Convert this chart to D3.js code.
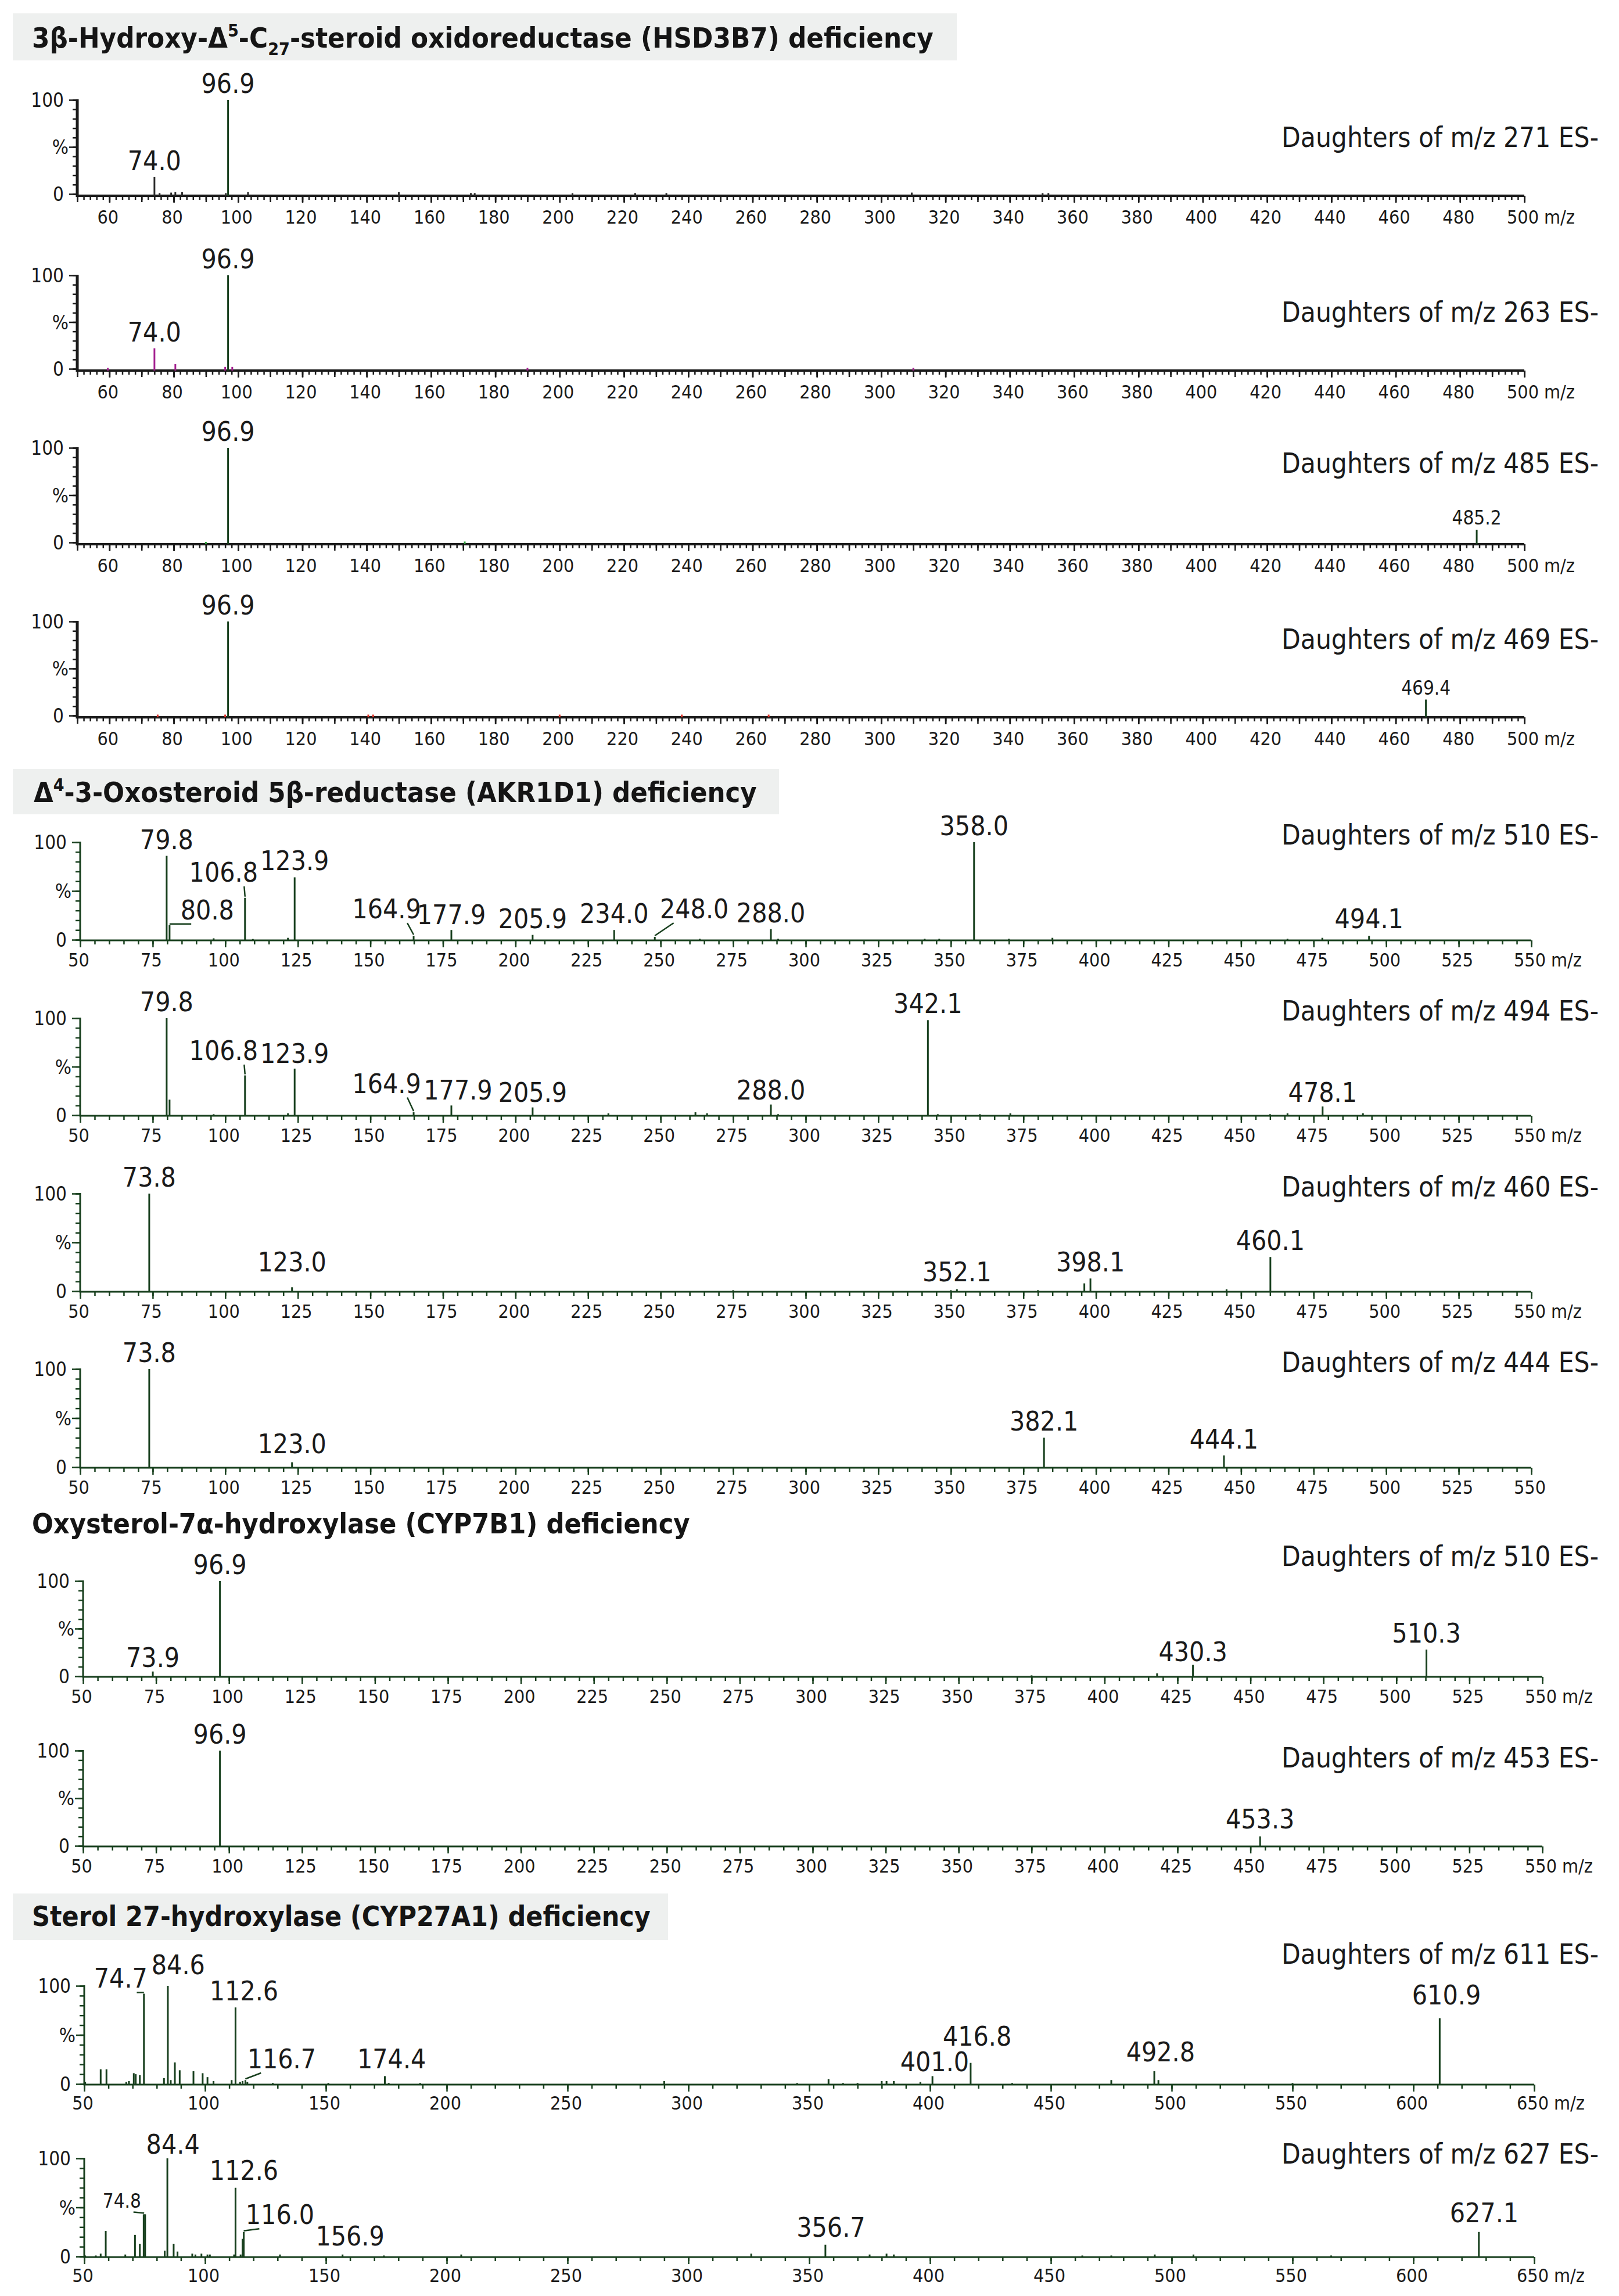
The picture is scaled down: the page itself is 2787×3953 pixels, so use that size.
<!DOCTYPE html>
<html><head><meta charset="utf-8">
<script src="https://cdn.jsdelivr.net/npm/d3@7/dist/d3.min.js"></script>
<style>html,body{margin:0;padding:0;background:#fff}svg{display:block}</style>
</head><body>
<svg id="chart" width="2787" height="3953" xmlns="http://www.w3.org/2000/svg"></svg>
<script>
// ================= DATA =================
const sectionTitles = [
  [["3β-Hydroxy-Δ"],["5","sup"],["-C"],["27","sub"],["-steroid oxidoreductase (HSD3B7) deficiency"]],
  [["Δ"],["4","sup"],["-3-Oxosteroid 5β-reductase (AKR1D1) deficiency"]],
  [["Oxysterol-7α-hydroxylase (CYP7B1) deficiency"]],
  [["Sterol 27-hydroxylase (CYP27A1) deficiency"]]
];
const precursorIons = [271, 263, 485, 469, 510, 494, 460, 444, 510, 453, 611, 627];

const ticksHSD = [60,80,100,120,140,160,180,200,220,240,260,280,300,320,340,360,380,400,420,440,460,480,500];
const ticksAKR = [50,75,100,125,150,175,200,225,250,275,300,325,350,375,400,425,450,475,500,525,550];
const ticksCYP7 = [50,75,100,125,150,175,200,225,250,275,300,325,350,375,400,425,450,475,500,525,550];
const ticksCYP27 = [50,100,150,200,250,300,350,400,450,500,550,600,650];
const yTickValues = [0, 50, 100];
const yTickLabels = ["0", "%", "100"];

// [m/z, relative intensity %]
const peaks271Main = [[96.9,100]];
const peaks271Dark = [[74.0,18],[75.6,1],[79.2,1.5],[80.5,2],[82.6,2],[96.2,1],[103.1,2],[150.0,2],[172.4,1],[173.6,1],[204.0,1],[223.5,1],[233.2,1],[309.5,1.5],[350.2,1],[352.0,1]];
const peaks263Main = [[96.9,100]];
const peaks263Alt = [[59.5,1],[74.0,22],[80.5,5],[96.0,2],[98.2,2],[190.0,1],[310.0,1]];
const peaks485Main = [[96.9,100],[485.2,13.5]];
const peaks485Alt = [[90.0,0.6],[170.5,1]];
const peaks469Main = [[96.9,100],[469.4,17]];
const peaks469Alt = [[75.0,1],[96.0,1],[140.5,1],[142.0,1],[200.0,1],[238.0,1],[265.0,1]];
const peaks510a = [[79.8,86],[80.8,15],[96.0,1.5],[106.8,43],[109.5,0.8],[121.6,2],[123.9,64],[164.9,4],[177.9,10],[205.9,5],[234.0,10],[248.0,3],[263.5,1],[288.0,11],[290.5,1],[341.0,1],[346.0,1],[358.0,100],[370.0,1],[385.0,2],[466.0,1],[478.0,2],[494.1,4]];
const peaks494 = [[79.8,100],[80.8,16],[96.0,1],[106.8,41],[121.6,2],[123.9,48],[164.9,3],[177.9,10],[205.9,8],[232.0,2],[262.0,3],[266.0,2],[288.0,11],[290.5,1],[342.1,98],[345.5,1],[360.0,1],[370.5,2],[460.0,1],[466.0,2],[478.1,9],[492.0,2]];
const peaks460 = [[73.8,100],[123.0,4],[275.0,1],[350.0,1],[352.1,2],[380.0,1],[396.0,8],[398.1,13],[445.0,2],[460.1,35]];
const peaks444 = [[73.8,100],[123.0,5],[382.1,30],[444.1,12]];
const peaks510b = [[73.9,5],[96.9,100],[375.0,1],[418.0,3],[430.3,12],[510.3,28]];
const peaks453 = [[96.9,100],[453.3,10]];
const peaks611 = [[50.4,2],[56.8,15],[59.2,15],[67.4,2],[68.5,3],[70.5,11],[71.3,10],[73.0,9],[74.7,92],[83.0,6],[84.6,100],[85.8,4],[87.5,22],[89.5,14],[95.2,13],[99.0,11],[101.0,7],[103.5,3],[111.0,4],[112.6,78],[114.5,2],[115.5,3],[116.7,4],[117.5,2],[128.0,1],[151.0,1],[174.4,8],[176.0,1],[189.0,1],[290.0,3],[345.0,1],[358.0,5],[364.0,1],[370.0,1],[380.0,3],[382.0,3],[385.0,3],[396.0,2],[401.0,8],[416.8,21.5],[434.0,1],[475.0,4],[492.8,13],[494.5,4],[550.0,1],[610.9,67]];
const peaks627 = [[50.4,1],[54.8,1],[56.8,3],[58.9,26],[67.0,2],[71.0,22],[73.0,13],[74.6,43],[75.2,43],[83.3,6],[84.4,100],[87.0,13],[88.6,5],[94.7,3],[96.0,2],[98.5,3],[101.0,2],[102.0,2],[112.0,2],[112.6,70],[114.7,2],[115.5,18],[116.0,25],[131.0,2],[156.9,2],[174.0,1],[206.0,2],[326.0,3],[356.7,12],[375.0,2],[382.0,3],[385.0,2],[463.0,1],[475.0,1],[493.0,2],[509.0,2],[566.0,1],[627.1,25]];

// peak annotations: [peak m/z, label m/z (optional), label baseline % (optional)]
const labels271 = [[74.0],[96.9]];
const labels263 = [[74.0],[96.9]];
const labels485 = [[96.9],[485.2,null,19]];
const labels469 = [[96.9],[469.4,null,22]];
const labels510a = [[79.8],[80.8,93.8,21],[106.8,99.4,59.5],[123.9],[164.9,155.6,22],[177.9,null,16],[205.9,null,12],[234.0,null,17],[248.0,261.6,22],[288.0,null,18],[358.0],[494.1,null,12]];
const labels494 = [[79.8],[106.8,99.4,57],[123.9,null,54],[164.9,155.6,23],[177.9,180.2,16],[205.9,null,14],[288.0,null,16],[342.1],[478.1,null,14]];
const labels460 = [[73.8],[123.0,null,20],[352.1,null,10],[398.1,null,20],[460.1]];
const labels444 = [[73.8],[123.0,null,14],[382.1],[444.1,null,19]];
const labels510b = [[73.9,null,10],[96.9],[430.3,null,16],[510.3]];
const labels453 = [[96.9],[453.3,null,18]];
const labels611 = [[74.7,65.1,98],[84.6,88.9,112],[112.6,116.1,85],[116.7,131.7,16],[174.4,177.2,16],[401.0,401.9,13],[416.8,419.5,39],[492.8,495.4,23],[610.9,613.7,81]];
const labels627 = [[74.8,65.6,50],[84.4,86.7,105],[112.6,116.1,78],[116.0,131.0,33],[156.9,160.0,11],[356.7,359.0,20],[627.1,629.3,35]];

// ================= STYLE / LAYOUT =================
const FONT = "'DejaVu Sans Condensed','DejaVu Sans',sans-serif";
const GREEN = "#173f1d";
const COLORS = {main: GREEN, dark: "#2a2a2a", magenta: "#a3208f", red: "#e0352b", lgreen: "#2f9a3a"};
const smallLabels = new Set(["485.2", "469.4", "74.8"]);

const groupStyle = {
  hsd:   {domain:[50,500], x0:133, x1:2624, ticks:ticksHSD,   minor:2,  mid:10,  axis:"#1a1a1a", xw:4, yw:5, tw:2.5, lab:51, off:3},
  akr:   {domain:[50,550], x0:138, x1:2636, ticks:ticksAKR,   minor:5,  mid:null, axis:GREEN,    xw:3, yw:3, tw:2.5, lab:46, off:1},
  cyp7:  {domain:[50,550], x0:143, x1:2655, ticks:ticksCYP7,  minor:5,  mid:null, axis:GREEN,    xw:3, yw:3, tw:2.5, lab:46, off:1},
  cyp27: {domain:[50,650], x0:145, x1:2641, ticks:ticksCYP27, minor:10, mid:null, axis:GREEN,    xw:3, yw:3, tw:2.5, lab:44, off:1}
};

const panels = [
  {g:"hsd", top:172,  zero:334,  tY:253,  series:[[peaks271Dark,"dark"],[peaks271Main,"main"]], labels:labels271, mz:true},
  {g:"hsd", top:474,  zero:635,  tY:554,  series:[[peaks263Alt,"magenta"],[peaks263Main,"main"]], labels:labels263, mz:true},
  {g:"hsd", top:771,  zero:934,  tY:814,  series:[[peaks485Alt,"lgreen"],[peaks485Main,"main"]], labels:labels485, mz:true},
  {g:"hsd", top:1070, zero:1232, tY:1117, series:[[peaks469Alt,"red"],[peaks469Main,"main"]], labels:labels469, mz:true},
  {g:"akr", top:1450, zero:1618, tY:1454, series:[[peaks510a,"main"]], labels:labels510a, mz:true},
  {g:"akr", top:1753, zero:1920, tY:1757, series:[[peaks494,"main"]], labels:labels494, mz:true},
  {g:"akr", top:2055, zero:2223, tY:2060, series:[[peaks460,"main"]], labels:labels460, mz:true},
  {g:"akr", top:2357, zero:2526, tY:2362, series:[[peaks444,"main"]], labels:labels444, mz:false},
  {g:"cyp7", top:2722, zero:2886, tY:2696, series:[[peaks510b,"main"]], labels:labels510b, mz:true},
  {g:"cyp7", top:3014, zero:3178, tY:3043, series:[[peaks453,"main"]], labels:labels453, mz:true},
  {g:"cyp27", top:3419, zero:3588, tY:3381, series:[[peaks611,"main"]], labels:labels611, mz:true},
  {g:"cyp27", top:3716, zero:3885, tY:3725, series:[[peaks627,"main"]], labels:labels627, mz:true}
];

const headerLayout = [
  {box:[22,23,1625,81],   x:55, y:82,   w:1552},
  {box:[22,1324,1319,78], x:58, y:1381, w:1245},
  {box:null,              x:55, y:2640, w:1133},
  {box:[22,3260,1128,80], x:55, y:3316, w:1065}
];

// ================= DRAW =================
const svg = d3.select("#chart");
svg.append("rect").attr("width", 2787).attr("height", 3953).attr("fill", "#fff");

// Section headers
headerLayout.forEach((H, i) => {
  if (H.box) {
    svg.append("rect").attr("x", H.box[0]).attr("y", H.box[1])
      .attr("width", H.box[2]).attr("height", H.box[3]).attr("fill", "#eef0ef");
  }
  const t = svg.append("text").attr("x", H.x).attr("y", H.y)
    .attr("font-family", FONT).attr("font-weight", "bold")
    .attr("font-size", 52).attr("fill", "#151515");
  let pending = 0;
  sectionTitles[i].forEach(([s, kind]) => {
    const sp = t.append("tspan").text(s);
    if (kind === "sup") {
      sp.attr("font-size", "0.62em").attr("dy", "-0.62em");
      pending = 0.62 * 0.62;
    } else if (kind === "sub") {
      sp.attr("font-size", "0.62em").attr("dy", "0.42em");
      pending = -0.42 * 0.62;
    } else if (pending !== 0) {
      sp.attr("dy", pending + "em");
      pending = 0;
    }
  });
  const w = t.node().getBBox().width;
  t.attr("font-size", 52 * H.w / w);
});

// size of "Daughters" titles
const probe = svg.append("text").attr("font-family", FONT).attr("font-size", 48)
  .text("Daughters of m/z 271 ES-");
const daughtersSize = 48 * 546 / probe.node().getBBox().width;
probe.remove();

panels.forEach((P, i) => {
  const G = groupStyle[P.g];
  const x = d3.scaleLinear().domain(G.domain).range([G.x0, G.x1]);
  const y = d3.scaleLinear().domain([0, 100]).range([P.zero, P.top]);
  const g = svg.append("g");
  const axisY = P.zero + G.off;

  // ---- x axis ticks
  const styleTicks = (sel) => {
    sel.select(".domain").remove();
    sel.selectAll(".tick line").attr("stroke", G.axis).attr("stroke-width", G.tw);
  };
  const minorVals = d3.range(G.domain[0], G.domain[1] + 0.001, G.minor);
  g.append("g").attr("transform", `translate(0,${axisY})`)
    .call(d3.axisBottom(x).tickValues(minorVals).tickSize(7).tickSizeOuter(0).tickFormat(""))
    .call(styleTicks);
  if (G.mid) {
    g.append("g").attr("transform", `translate(0,${axisY})`)
      .call(d3.axisBottom(x).tickValues(d3.range(G.domain[0], G.domain[1] + 0.001, G.mid)).tickSize(11).tickSizeOuter(0).tickFormat(""))
      .call(styleTicks);
  }
  const gx = g.append("g").attr("transform", `translate(0,${axisY})`)
    .call(d3.axisBottom(x).tickValues(G.ticks).tickSize(12).tickSizeOuter(0).tickFormat(d3.format("d")))
    .call(styleTicks);
  gx.selectAll(".tick text").attr("y", G.lab - G.off).attr("dy", 0).attr("x", -3)
    .attr("font-family", FONT).attr("font-size", 32).attr("fill", "#1a1a1a");
  if (P.mz) {
    g.append("text").attr("x", G.x1 + 34).attr("y", axisY + G.lab - G.off)
      .attr("font-family", FONT).attr("font-size", 32).attr("fill", "#1a1a1a").text("m/z");
  }
  // x axis line
  g.append("line").attr("x1", G.x0).attr("x2", G.x1).attr("y1", axisY).attr("y2", axisY)
    .attr("stroke", G.axis).attr("stroke-width", G.xw);

  // ---- y axis
  g.append("g").attr("transform", `translate(${G.x0},0)`)
    .call(d3.axisLeft(y).tickValues(d3.range(0, 101, 10)).tickSize(8).tickSizeOuter(0).tickFormat(""))
    .call(styleTicks);
  g.append("g").attr("transform", `translate(${G.x0},0)`)
    .call(d3.axisLeft(y).tickValues(yTickValues).tickSize(14).tickSizeOuter(0).tickFormat(""))
    .call(styleTicks);
  g.append("line").attr("x1", G.x0).attr("x2", G.x0).attr("y1", y(100) - 1).attr("y2", axisY + G.xw / 2)
    .attr("stroke", G.axis).attr("stroke-width", G.yw);
  yTickValues.forEach((v, k) => {
    const isPct = yTickLabels[k] === "%";
    g.append("text").attr("x", G.x0 - (isPct ? 15 : 23)).attr("y", y(v) + 12)
      .attr("text-anchor", "end").attr("font-family", FONT).attr("font-size", 33)
      .attr("fill", "#1a1a1a").text(yTickLabels[k]);
  });

  // ---- peaks
  const all = [];
  P.series.forEach(([arr, col]) => {
    arr.forEach(d => all.push(d));
    g.append("g").selectAll("line").data(arr).join("line")
      .attr("x1", d => x(d[0])).attr("x2", d => x(d[0]))
      .attr("y1", axisY).attr("y2", d => y(d[1]))
      .attr("stroke", COLORS[col]).attr("stroke-width", 3);
  });

  // ---- peak labels
  P.labels.forEach(L => {
    const mzv = L[0];
    const pk = all.reduce((a, b) => Math.abs(b[0] - mzv) < Math.abs(a[0] - mzv) ? b : a);
    const px = x(mzv), top = y(pk[1]);
    const lx = (L[1] != null) ? L[1] : mzv;
    const tx = x(lx);
    const ty = (L[2] != null) ? y(L[2]) : top - 12;
    const txt = mzv.toFixed(1);
    const t = g.append("text").attr("x", tx).attr("y", ty).attr("text-anchor", "middle")
      .attr("font-family", FONT).attr("font-size", smallLabels.has(txt) ? 33 : 46)
      .attr("fill", "#1a1a1a").text(txt);
    if (L[1] != null && Math.abs(L[1] - mzv) > 5) {
      const w = t.node().getComputedTextLength();
      const sgn = Math.sign(px - tx);
      const sx = tx + sgn * 0.3 * w, sy = ty + 8;
      g.append("path").attr("d", `M${sx},${sy}L${px},${top - 2}`)
        .attr("fill", "none").attr("stroke", GREEN).attr("stroke-width", 2.5);
    }
  });

  // ---- precursor title
  g.append("text").attr("x", 2752).attr("y", P.tY).attr("text-anchor", "end")
    .attr("font-family", FONT).attr("font-size", daughtersSize).attr("fill", "#1a1a1a")
    .text(`Daughters of m/z ${precursorIons[i]} ES-`);
});
</script>
</body></html>
